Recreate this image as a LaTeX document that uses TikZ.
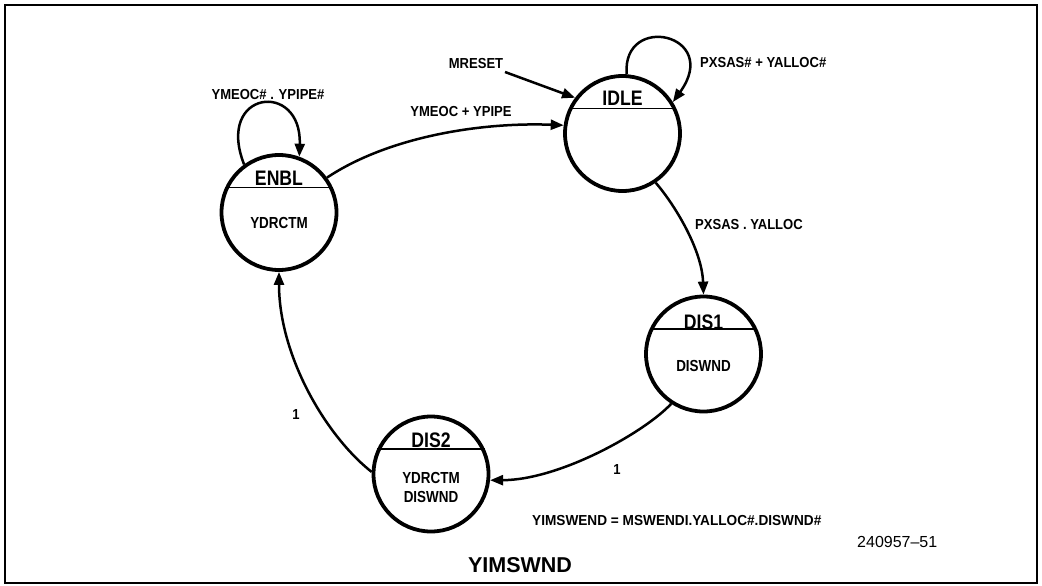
\documentclass[tikz,border=0pt]{standalone}
\usepackage{fontspec}
\setmainfont{Liberation Sans}
\newfontfamily\condfont[FakeStretch=0.84]{Liberation Sans}
\newfontfamily\lblfontfam[FakeStretch=0.9]{Liberation Sans}
\newfontfamily\eqfontfam[FakeStretch=0.94]{Liberation Sans}
\usetikzlibrary{arrows.meta}
\begin{document}
\begin{tikzpicture}[x=1pt,y=-1pt,
  st/.style={circle,draw,line width=3.8pt,minimum size=115pt,inner sep=0pt},
  chord/.style={line width=1.6pt},
  tr/.style={line width=2.5pt,-{Triangle[length=13pt,width=10pt]}},
  nm/.style={font=\condfont\bfseries\fontsize{21}{24}\selectfont,inner sep=0pt},
  act/.style={font=\condfont\bfseries\fontsize{16}{19}\selectfont,inner sep=0pt,align=center},
  lbl/.style={font=\lblfontfam\bfseries\fontsize{14.5}{17}\selectfont,inner sep=0pt},
  eqlbl/.style={font=\eqfontfam\bfseries\fontsize{14.5}{17}\selectfont,inner sep=0pt},
]
\useasboundingbox (0,0) rectangle (1042,586);
\draw[line width=2pt] (5,5) rectangle (1037,583);

% states
\node[st] (enbl) at (279,212.5) {};
\node[st] (idle) at (622.5,133.5) {};
\node[st] (dis1) at (703.5,354) {};
\node[st] (dis2) at (431,474) {};

\draw[chord] (enbl.155) -- (enbl.25);
\draw[chord] (idle.155) -- (idle.25);
\draw[chord] (dis1.155) -- (dis1.25);
\draw[chord] (dis2.155) -- (dis2.25);

\node[nm] (enblname) at ([yshift=34pt]enbl.center) {ENBL};
\node[nm] (idlename) at ([yshift=35pt]idle.center) {IDLE};
\node[nm] (dis1name) at ([yshift=32pt]dis1.center) {DIS1};
\node[nm] (dis2name) at ([yshift=34pt]dis2.center) {DIS2};

\node[act] (enblact) at ([yshift=-10pt]enbl.center) {YDRCTM};
\node[act] (dis1act) at ([yshift=-12pt]dis1.center) {DISWND};
\node[act] (dis2act) at ([yshift=-13pt]dis2.center) {YDRCTM\\DISWND};

% transitions
\draw[tr] (enbl.126) .. controls (215,90) and (302,80) .. (enbl.70);
\draw[tr] (enbl.36) .. controls (388,137) and (480,122) .. (idle.172);
\coordinate (mrs) at (505,72);
\draw[tr] (mrs) -- (idle.143);
\draw[tr] (idle.86) .. controls (622,12) and (722,34) .. (idle.32);
\draw[tr] (idle.-56) .. controls (675,205) and (702,250) .. (dis1.90);
\draw[tr] (dis1.237) .. controls (645,432) and (560,480) .. (dis2.-6);
\draw[tr] (dis2.178) .. controls (325,435) and (279,355) .. (enbl.270);

% labels
\node[lbl] (lenblloop) at (268,95) {YMEOC\# . YPIPE\#};
\node[lbl] (lenblidle) at (461,112) {YMEOC + YPIPE};
\node[lbl] (mreset) at (476,64) {MRESET};
\node[lbl,anchor=west] (lidleloop) at (700,63) {PXSAS\# + YALLOC\#};
\node[lbl,anchor=west] (lidledis1) at (695,225) {PXSAS . YALLOC};
\node[lbl] (ldis1dis2) at (617,470) {1};
\node[lbl] (ldis2enbl) at (296,415) {1};
\node[eqlbl,anchor=west] (eq) at (532,521) {YIMSWEND = MSWENDI.YALLOC\#.DISWND\#};
\node[font=\fontsize{16}{19}\selectfont,anchor=west,inner sep=0pt] (fig) at (857,542) {240957–51};
\node[font=\bfseries\fontsize{21.5}{24}\selectfont,inner sep=0pt] (title) at (520,565) {YIMSWND};
\end{tikzpicture}
\end{document}
